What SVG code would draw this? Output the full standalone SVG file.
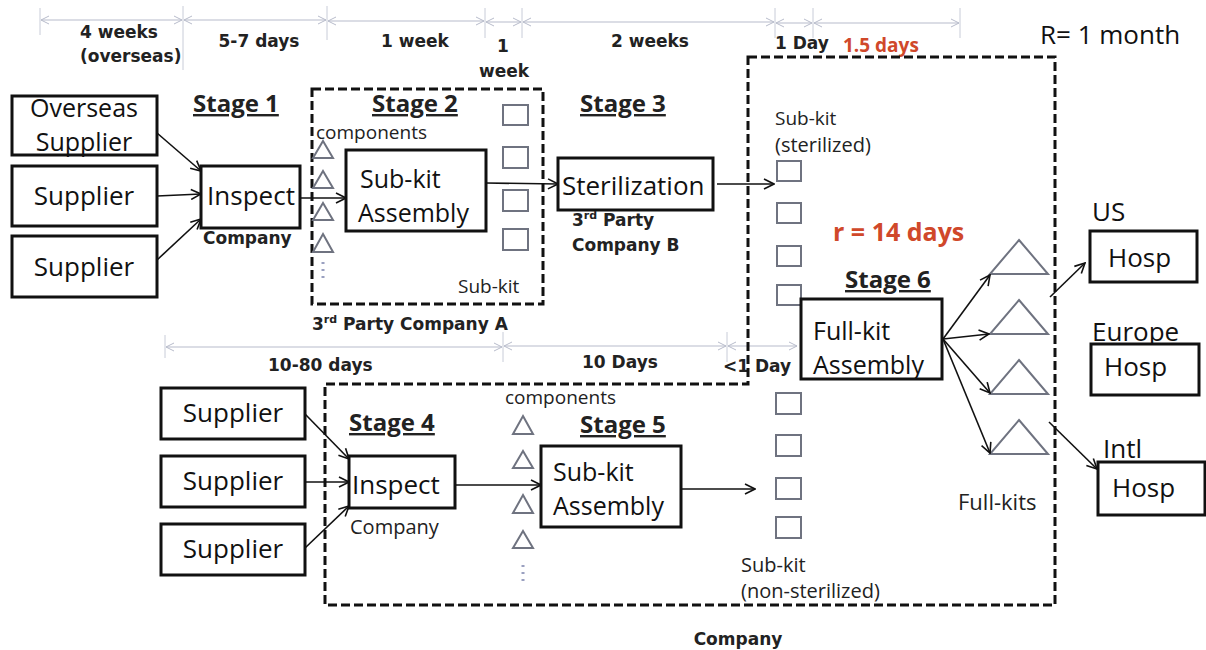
<svg xmlns="http://www.w3.org/2000/svg" width="1206" height="650" viewBox="0 0 1206 650">
<defs>
<marker id="arr" viewBox="0 0 12 12" refX="11" refY="6" markerWidth="12" markerHeight="12" markerUnits="userSpaceOnUse" orient="auto">
<path d="M1,1 L11,6 L1,11" fill="none" stroke="#111" stroke-width="1.6"/>
</marker>
<marker id="tl" viewBox="0 0 10 10" refX="9" refY="5" markerWidth="10" markerHeight="10" markerUnits="userSpaceOnUse" orient="auto-start-reverse">
<path d="M1,1 L9,5 L1,9" fill="none" stroke="#b8bccb" stroke-width="1"/>
</marker>
</defs>
<style>
.box{fill:#fff;stroke:#111;stroke-width:3}
.node{font-family:"Open Sans","Liberation Sans",sans-serif;font-size:26px;fill:#111}
.two{font-size:25px}
.small{font-family:"Open Sans","Liberation Sans",sans-serif;font-size:19px;fill:#222}
.s20{font-size:20px}
.s23{font-size:22px}
.bold{font-family:"DejaVu Sans","Liberation Sans",sans-serif;font-weight:bold;font-size:17px;fill:#222}
.stage{font-family:"Open Sans","Liberation Sans",sans-serif;font-weight:bold;font-size:24px;fill:#222;text-decoration:underline}
.red{font-family:"Open Sans","Liberation Sans",sans-serif;font-weight:bold;fill:#d0482a}
.dash{fill:none;stroke:#111;stroke-width:3;stroke-dasharray:9,4}
.sq{fill:#fff;stroke:#6f7380;stroke-width:2}
.tri{fill:none;stroke:#6f7380;stroke-width:2}
.dots{fill:none;stroke:#9aa0c0;stroke-width:3;stroke-dasharray:2,5}
.conn{fill:none;stroke:#111;stroke-width:1.6;marker-end:url(#arr)}
.tline{fill:none;stroke:#b8bccb;stroke-width:1.2;marker-start:url(#tl);marker-end:url(#tl)}
.tick{stroke:#c8ccd8;stroke-width:1}
</style>
<rect width="1206" height="650" fill="#fff"/>

<!-- timelines -->
<g id="timeline-top">
<line class="tick" x1="40" y1="8" x2="40" y2="35"/>
<line class="tick" x1="183" y1="6" x2="183" y2="70"/>
<line class="tick" x1="327" y1="6" x2="327" y2="40"/>
<line class="tick" x1="485" y1="8" x2="485" y2="38"/>
<line class="tick" x1="522" y1="8" x2="522" y2="38"/>
<line class="tick" x1="775" y1="8" x2="775" y2="38"/>
<line class="tick" x1="813" y1="8" x2="813" y2="38"/>
<line class="tick" x1="960" y1="8" x2="960" y2="38"/>
<line class="tline" x1="41" y1="20" x2="182" y2="20"/>
<line class="tline" x1="184" y1="20" x2="326" y2="20"/>
<line class="tline" x1="328" y1="21" x2="484" y2="21"/>
<line class="tline" x1="486" y1="22" x2="521" y2="22"/>
<line class="tline" x1="523" y1="22" x2="774" y2="22"/>
<line class="tline" x1="776" y1="23" x2="812" y2="23"/>
<line class="tline" x1="814" y1="23" x2="959" y2="23"/>
<text class="bold" x="80" y="38">4 weeks</text>
<text class="bold" x="80" y="62">(overseas)</text>
<text class="bold" x="259" y="47" text-anchor="middle">5-7 days</text>
<text class="bold" x="415" y="47" text-anchor="middle">1 week</text>
<text class="bold" x="503" y="52" text-anchor="middle">1</text>
<text class="bold" x="504" y="77" text-anchor="middle">week</text>
<text class="bold" x="650" y="47" text-anchor="middle">2 weeks</text>
<text class="bold" x="775" y="49">1 Day</text>
<text class="red" x="843" y="52" font-size="19">1.5 days</text>
<text class="node" x="1040" y="44">R= 1 month</text>
</g>

<g id="timeline-bottom">
<line class="tick" x1="165" y1="335" x2="165" y2="358"/>
<line class="tick" x1="503" y1="332" x2="503" y2="362"/>
<line class="tick" x1="727" y1="332" x2="727" y2="362"/>
<line class="tline" x1="166" y1="347" x2="502" y2="347"/>
<line class="tline" x1="504" y1="346" x2="726" y2="346"/>
<line class="tline" x1="728" y1="346" x2="797" y2="346"/>
<text class="bold" x="268" y="371">10-80 days</text>
<text class="bold" x="582" y="368">10 Days</text>
<text class="bold" x="723" y="372">&lt;1 Day</text>
</g>

<!-- dashed boundaries -->
<g id="boundary-stage2">
<rect class="dash" x="312" y="89" width="231" height="215"/>
<text class="bold" x="312" y="330">3<tspan font-size="11" dy="-7">rd</tspan><tspan dy="7"> Party  Company A</tspan></text>
</g>
<g id="boundary-company">
<path class="dash" d="M748,57 H1055 V605 H325 V384 H748 Z"/>
<text class="bold" x="738" y="645" text-anchor="middle">Company</text>
</g>

<!-- stage labels -->
<text class="stage" x="193" y="112">Stage 1</text>
<text class="stage" x="372" y="112">Stage 2</text>
<text class="stage" x="580" y="112">Stage 3</text>
<text class="stage" x="845" y="288">Stage 6</text>
<text class="stage" x="349" y="431">Stage 4</text>
<text class="stage" x="580" y="433">Stage 5</text>
<text class="red" x="833" y="241" font-size="25">r = 14 days</text>

<!-- upper suppliers -->
<g id="overseas-supplier">
<rect class="box" x="12" y="96" width="145" height="59"/>
<text class="node two" x="84" y="117" text-anchor="middle">Overseas</text>
<text class="node two" x="84" y="151" text-anchor="middle">Supplier</text>
</g>
<g id="supplier-1">
<rect class="box" x="12" y="166" width="145" height="60"/>
<text class="node" x="84" y="205" text-anchor="middle">Supplier</text>
</g>
<g id="supplier-2">
<rect class="box" x="12" y="236" width="145" height="61"/>
<text class="node" x="84" y="276" text-anchor="middle">Supplier</text>
</g>
<g id="inspect-1">
<rect class="box" x="201" y="166" width="99" height="62"/>
<text class="node" x="251" y="205" text-anchor="middle">Inspect</text>
<text class="bold" x="203" y="244">Company</text>
</g>

<!-- stage 2 -->
<g id="components-2">
<text class="small" x="316" y="139">components</text>
<path class="tri" d="M323,141 L333,158 L313,158 Z M323,171 L333,188 L313,188 Z M323,203 L333,220 L313,220 Z M323,234 L333,252 L313,252 Z"/>
<line class="dots" x1="323" y1="262" x2="323" y2="283"/>
</g>
<g id="subkit-assembly-1">
<rect class="box" x="346" y="150" width="140" height="81"/>
<text class="node two" x="360" y="188">Sub-kit</text>
<text class="node two" x="358" y="222">Assembly</text>
</g>
<g id="subkits-2">
<rect class="sq" x="503" y="105" width="25" height="20"/>
<rect class="sq" x="503" y="147" width="25" height="21"/>
<rect class="sq" x="503" y="190" width="25" height="21"/>
<rect class="sq" x="503" y="229" width="25" height="21"/>
<text class="small" x="458" y="293">Sub-kit</text>
</g>

<!-- stage 3 -->
<g id="sterilization">
<rect class="box" x="558" y="158" width="155" height="52"/>
<text class="node" x="562" y="195">Sterilization</text>
<text class="bold" x="572" y="226">3<tspan font-size="11" dy="-7">rd</tspan><tspan dy="7"> Party</tspan></text>
<text class="bold" x="572" y="251">Company B</text>
</g>

<!-- sterilized subkits -->
<g id="subkits-sterilized">
<text class="small" x="775" y="125">Sub-kit</text>
<text class="small s20" x="775" y="152">(sterilized)</text>
<rect class="sq" x="777" y="161" width="24" height="20"/>
<rect class="sq" x="777" y="203" width="24" height="20"/>
<rect class="sq" x="777" y="246" width="24" height="20"/>
<rect class="sq" x="777" y="285" width="24" height="20"/>
</g>

<!-- stage 6 -->
<g id="fullkit-assembly">
<rect class="box" x="801" y="299" width="141" height="80"/>
<text class="node two" x="813" y="340">Full-kit</text>
<text class="node two" x="813" y="374">Assembly</text>
</g>
<g id="fullkits">
<path class="tri" d="M1019,240 L1048,274 L990,274 Z M1019,300 L1048,334 L990,334 Z M1019,360 L1048,394 L990,394 Z M1019,420 L1048,454 L990,454 Z"/>
<text class="small s23" x="958" y="510">Full-kits</text>
</g>

<!-- hospitals -->
<g id="hosp-us">
<text class="node" x="1092" y="221">US</text>
<rect class="box" x="1090" y="231" width="107" height="51"/>
<text class="node" x="1108" y="267">Hosp</text>
</g>
<g id="hosp-europe">
<text class="node" x="1092" y="341">Europe</text>
<rect class="box" x="1091" y="344" width="108" height="51"/>
<text class="node" x="1104" y="376">Hosp</text>
</g>
<g id="hosp-intl">
<text class="node" x="1103" y="458">Intl</text>
<rect class="box" x="1098" y="462" width="107" height="53"/>
<text class="node" x="1112" y="497">Hosp</text>
</g>

<!-- lower suppliers -->
<g id="supplier-3">
<rect class="box" x="161" y="388" width="144" height="51"/>
<text class="node" x="233" y="422" text-anchor="middle">Supplier</text>
</g>
<g id="supplier-4">
<rect class="box" x="161" y="456" width="144" height="51"/>
<text class="node" x="233" y="490" text-anchor="middle">Supplier</text>
</g>
<g id="supplier-5">
<rect class="box" x="161" y="524" width="144" height="51"/>
<text class="node" x="233" y="558" text-anchor="middle">Supplier</text>
</g>
<g id="inspect-2">
<rect class="box" x="349" y="456" width="106" height="52"/>
<text class="node" x="352" y="494">Inspect</text>
<text class="small s20" x="350" y="534">Company</text>
</g>
<g id="components-5">
<text class="small" x="505" y="404">components</text>
<path class="tri" d="M523,416 L533,434 L513,434 Z M523,451 L533,468 L513,468 Z M523,495 L533,513 L513,513 Z M523,531 L533,548 L513,548 Z"/>
<line class="dots" x1="523" y1="565" x2="523" y2="586"/>
</g>
<g id="subkit-assembly-2">
<rect class="box" x="541" y="446" width="140" height="81"/>
<text class="node two" x="553" y="481">Sub-kit</text>
<text class="node two" x="553" y="515">Assembly</text>
</g>
<g id="subkits-nonsterilized">
<rect class="sq" x="776" y="393" width="25" height="21"/>
<rect class="sq" x="776" y="435" width="25" height="21"/>
<rect class="sq" x="776" y="478" width="25" height="21"/>
<rect class="sq" x="776" y="517" width="25" height="21"/>
<text class="small s20" x="741" y="572">Sub-kit</text>
<text class="small s20" x="741" y="598">(non-sterilized)</text>
</g>

<!-- connectors -->
<g id="connectors">
<line class="conn" x1="157" y1="133" x2="201" y2="171"/>
<line class="conn" x1="157" y1="196" x2="201" y2="194"/>
<line class="conn" x1="157" y1="260" x2="201" y2="219"/>
<line class="conn" x1="300" y1="198" x2="346" y2="198"/>
<line class="conn" x1="486" y1="183" x2="558" y2="184"/>
<line class="conn" x1="717" y1="184" x2="774" y2="184"/>
<line class="conn" x1="943" y1="339" x2="990" y2="275"/>
<line class="conn" x1="943" y1="339" x2="989" y2="334"/>
<line class="conn" x1="943" y1="339" x2="990" y2="393"/>
<line class="conn" x1="943" y1="339" x2="990" y2="453"/>
<line class="conn" x1="1050" y1="297" x2="1085" y2="263"/>
<line class="conn" x1="1049" y1="422" x2="1097" y2="469"/>
<line class="conn" x1="305" y1="414" x2="349" y2="459"/>
<line class="conn" x1="305" y1="482" x2="349" y2="482"/>
<line class="conn" x1="305" y1="548" x2="349" y2="506"/>
<line class="conn" x1="455" y1="485" x2="541" y2="485"/>
<line class="conn" x1="681" y1="489" x2="755" y2="489"/>
</g>
</svg>
